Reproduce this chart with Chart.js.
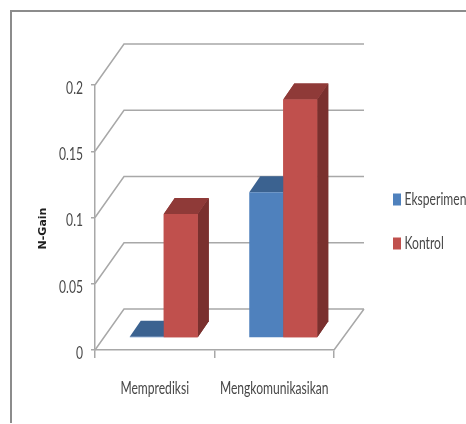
<!DOCTYPE html>
<html><head><meta charset="utf-8">
<script src="https://cdn.jsdelivr.net/npm/chart.js@4"></script>
<style>html,body{margin:0;padding:0;background:#fff;overflow:hidden}
#w{width:466px;height:424px;filter:blur(0.55px)}canvas{display:block}</style>
</head><body><div id="w"><canvas id="c" width="466" height="424"></canvas></div>
<script>
const categories = ["Memprediksi", "Mengkomunikasikan"];
const eksperimen = [0.001, 0.110];
const kontrol = [0.0936, 0.180];
const seriesNames = ["Eksperimen", "Kontrol"];
const axisTitle = "N-Gain";

const GRID = "#a8a8a8", TEXT = "#484848", FONT = "Lato";
const faces = [{top:"#3b6290", side:"#375a84"}, {top:"#8f3a38", side:"#7a302e"}];
const DEPTH = {x:29, y:41}, BAR = {x:9, y:12}, SIDE = {x:11, y:16};

function poly(ctx, pts, fill){
  ctx.beginPath(); pts.forEach((p,i)=> i?ctx.lineTo(p[0],p[1]):ctx.moveTo(p[0],p[1]));
  ctx.closePath(); ctx.fillStyle=fill; ctx.fill();
}
function drawFaces(ctx, meta, f){
  meta.data.forEach(el=>{
    const l=el.x-el.width/2, r=el.x+el.width/2, t=el.y, b=el.base;
    poly(ctx,[[r,t],[r+SIDE.x,t-SIDE.y],[r+SIDE.x,b-SIDE.y],[r,b]],f.side);
    poly(ctx,[[l,t],[r,t],[r+SIDE.x,t-SIDE.y],[l+SIDE.x,t-SIDE.y]],f.top);
  });
}
const bars3d = {
  id:"bars3d",
  beforeDraw(chart){
    const ctx=chart.ctx; ctx.save(); ctx.strokeStyle="#8c8c8c"; ctx.lineWidth=2;
    ctx.beginPath(); ctx.moveTo(11,423); ctx.lineTo(11,11); ctx.lineTo(466,11); ctx.stroke(); ctx.restore();
  },
  afterLayout(chart){
    const l=chart.legend; l.left=366; l.right=466; l.top-=33; l.bottom-=33;
    const y=chart.scales.y;
    if(!y._shifted){ y._shifted=true; const d=y.drawTitle.bind(y);
      y.drawTitle=()=>{chart.ctx.save();chart.ctx.translate(0,11);d();chart.ctx.restore();}; }
  },
  beforeDatasetsDraw(chart){
    const ctx=chart.ctx, y=chart.scales.y, a=chart.chartArea;
    ctx.save(); ctx.strokeStyle=GRID; ctx.lineWidth=1.5; ctx.beginPath();
    y.ticks.forEach(t=>{ const py=y.getPixelForValue(t.value);
      ctx.moveTo(a.left,py); ctx.lineTo(a.left+DEPTH.x,py-DEPTH.y); ctx.lineTo(a.right+30,py-DEPTH.y); });
    const b=y.getPixelForValue(0);
    ctx.moveTo(a.right+30,b-DEPTH.y); ctx.lineTo(a.right,b);
    ctx.stroke(); ctx.restore();
    ctx.save(); ctx.translate(BAR.x,-BAR.y);
  },
  afterDatasetsDraw(chart){
    // Chart.js paints the last dataset first; the red bars must sit in front of the blue ones.
    const ctx=chart.ctx, meta=chart.getDatasetMeta(1);
    drawFaces(ctx,meta,faces[1]);
    meta.data.forEach(el=>el.draw(ctx));
    ctx.restore();
  },
  beforeDatasetDraw(chart,args){
    drawFaces(chart.ctx,chart.getDatasetMeta(args.index),faces[args.index]);
  }
};
Chart.defaults.animation=false;
const canvas=document.getElementById("c");
// The reference text is a tall condensed face: narrow the regular text horizontally.
const rawCtx=canvas.getContext("2d");
const rawFill=rawCtx.fillText.bind(rawCtx);
rawCtx.fillText=function(s,x,y,m){
  if(rawCtx.font.indexOf("bold")>=0){ return rawFill(s,x,y,m); }
  const size=parseFloat(rawCtx.font.match(/([\d.]+)px/)[1]);
  const dx=seriesNames.includes(s)?-5:0;
  const dy=/^[\d.]+$/.test(s)?3:0;
  rawCtx.save(); rawCtx.translate(x+dx,y+dy); rawCtx.scale(12.1/size,1); rawFill(s,0,0); rawCtx.restore();
};
const chart = new Chart(canvas,{
  type:"bar",
  data:{labels:categories,datasets:[
    {label:seriesNames[0],data:eksperimen,backgroundColor:"#4f81bd",categoryPercentage:0.569,barPercentage:1},
    {label:seriesNames[1],data:kontrol,backgroundColor:"#c0504d",categoryPercentage:0.569,barPercentage:1}
  ]},
  options:{
    responsive:false,devicePixelRatio:1,
    layout:{padding:{top:85,left:0,right:0,bottom:0}},
    plugins:{
      tooltip:{enabled:false},
      legend:{position:"right",align:"center",
        labels:{boxWidth:8,boxHeight:12,padding:27,color:TEXT,font:{family:FONT,size:17}}}
    },
    scales:{
      x:{grid:{drawOnChartArea:false,color:GRID,lineWidth:1.5,tickLength:8},
         border:{color:GRID,width:1.5},
         ticks:{color:TEXT,padding:20,maxRotation:0,autoSkip:false,font:{family:FONT,size:17}},
         afterFit(s){s.height=74;}},
      y:{min:0,max:0.2,grid:{drawOnChartArea:false,color:GRID,lineWidth:1.5,tickLength:4},
         border:{color:GRID,width:1.5},
         ticks:{stepSize:0.05,color:TEXT,padding:8,font:{family:FONT,size:18},
           callback:v=>String(+v.toFixed(2))},
         title:{display:true,text:axisTitle,color:"#202020",padding:{top:37,bottom:0},
           font:{family:"'DejaVu Sans'",size:11,weight:"bold"}},
         afterFit(s){s.width=95;}}
    }
  },
  plugins:[bars3d]
});
const baseFit=chart.legend.fit;
chart.legend.fit=function(){ baseFit.call(this); this.width=132; };
chart.update();
</script></body></html>
